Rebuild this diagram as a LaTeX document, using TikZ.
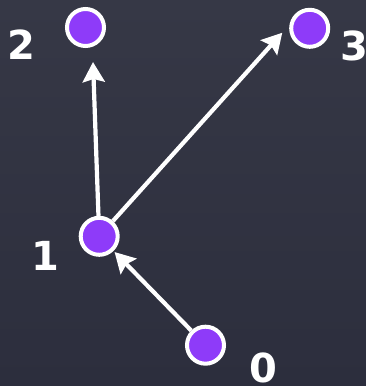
\documentclass[tikz,border=0pt]{standalone}
\usepackage{fontspec}
\setmainfont{DejaVu Sans}
\usetikzlibrary{arrows.meta}
\definecolor{board}{HTML}{2C2E3D}
\definecolor{boardtop}{HTML}{363846}
\definecolor{vpurple}{HTML}{8E3BF9}
\tikzset{
  vert/.style={circle, draw=white, fill=vpurple, line width=4pt, minimum size=37pt, inner sep=0pt},
  lab/.style={text=white, font=\bfseries\fontsize{40}{40}\selectfont, inner sep=0pt},
  edge/.style={draw=white, line width=4.2pt, -{Stealth[length=20pt,width=22pt,inset=3pt]}}
}
\begin{document}
\begin{tikzpicture}[x=1pt,y=1pt]
\shade[top color=boardtop, bottom color=board] (0,0) rectangle (366,386);
\useasboundingbox (0,0) rectangle (366,386);
\node[vert] (n2) at (85.5,358.5) {};
\node[vert] (n3) at (309.7,357.7) {};
\node[vert] (n1) at (99.2,149.7) {};
\node[vert] (n0) at (205.5,40.8) {};
\node[lab] (l2) at (21,341) {2};
\node[lab] (l3) at (354,340) {3};
\node[lab] (l1) at (45.5,130) {1};
\node[lab] (l0) at (263.5,18) {0};
\coordinate (t2) at (93,324);
\coordinate (t3) at (282.3,353.3);
\draw[edge] (n1) -- (t2);
\draw[edge] (n1) -- (t3);
\draw[edge, shorten >=1.5pt] (n0) -- (n1);
\end{tikzpicture}
\end{document}
